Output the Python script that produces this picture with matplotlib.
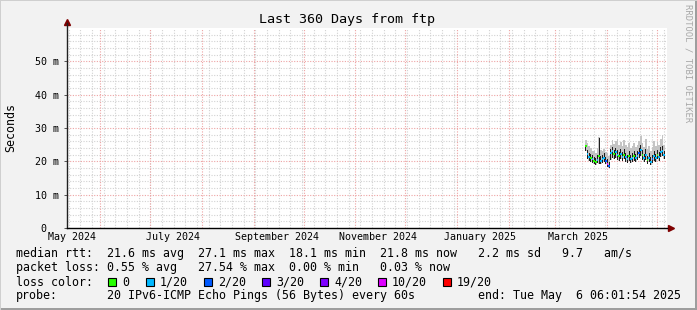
import matplotlib
matplotlib.use("Agg")
import matplotlib.pyplot as plt
from matplotlib.patches import Rectangle
import matplotlib.transforms as mtransforms
import pandas as pd

plt.rcParams["font.family"] = ["DejaVu Sans Mono"]

W, H = 697, 310

# ── data ────────────────────────────────────────────────────────────────────
days = pd.date_range("2025-03-19 12:00", periods=48, freq="D")
median_ms = [24.6, 22.2, 21.3, 21.0, 20.7, 20.2, 19.7, 20.4, 21.6, 20.1,
             20.6, 21.0, 20.2, 19.2, 18.6, 22.4, 23.0, 22.1, 22.7, 21.8,
             21.5, 22.3, 21.4, 22.0, 21.2, 20.7, 21.6, 20.6, 20.9, 21.5,
             20.9, 21.7, 22.6, 23.4, 22.0, 21.0, 21.9, 20.3, 21.1, 19.8,
             20.6, 21.5, 20.9, 22.0, 21.3, 22.8, 23.2, 21.9]
smoke_lo = [23.0, 20.8, 20.2, 19.9, 19.6, 19.3, 19.0, 19.4, 19.3, 19.2,
            19.5, 19.8, 19.2, 18.4, 18.1, 20.5, 21.0, 20.6, 21.0, 20.4,
            20.2, 20.8, 20.1, 20.6, 19.9, 19.6, 20.2, 19.5, 19.8, 20.2,
            19.7, 20.3, 21.0, 21.6, 20.5, 19.8, 20.5, 19.3, 19.9, 18.9,
            19.5, 20.2, 19.7, 20.6, 20.0, 21.2, 21.5, 20.6]
smoke_hi = [26.5, 25.5, 24.6, 24.0, 23.2, 23.0, 22.6, 24.0, 27.3, 23.5,
            23.0, 23.6, 22.8, 22.4, 21.5, 25.0, 26.4, 25.2, 26.0, 26.8,
            25.0, 25.8, 24.6, 26.5, 24.8, 24.2, 25.4, 24.0, 24.6, 25.5,
            24.2, 25.0, 26.2, 27.6, 25.5, 24.3, 26.8, 23.8, 24.6, 23.2,
            24.4, 26.2, 24.6, 25.8, 24.8, 26.6, 27.8, 25.0]
dark_hi = [25.0, 23.5, 22.6, 22.3, 21.8, 21.4, 21.0, 21.8, 27.1, 21.6,
           21.9, 22.5, 21.4, 20.6, 19.8, 23.6, 24.2, 23.4, 24.0, 23.4,
           22.8, 23.8, 22.7, 23.6, 22.5, 22.0, 23.0, 21.9, 22.4, 23.1,
           22.2, 23.0, 24.0, 25.0, 23.3, 22.2, 23.6, 21.6, 22.5, 21.2,
           22.0, 23.2, 22.3, 23.4, 22.7, 24.2, 24.6, 23.0]
loss_level = [0, 1, 1, 0, 1, 0, 0, 1, 0, 1, 1, 1, 2, 5, 2, 1, 1, 0, 1, 1,
              0, 1, 1, 0, 1, 1, 0, 1, 1, 0, 1, 1, 2, 1, 0, 1, 1, 0, 1, 1,
              2, 1, 1, 0, 1, 1, 1, 1]

loss_labels = ["0", "1/20", "2/20", "3/20", "4/20", "10/20", "19/20"]
loss_colors = ["#26ff00", "#00b8ff", "#0059ff", "#5e00ff", "#7e00ff", "#dd00ff", "#ff0000"]

y_ticks = [0, 10, 20, 30, 40, 50]
y_ticklabels = ["0", "10 m", "20 m", "30 m", "40 m", "50 m"]
x_ticks = pd.to_datetime(["2024-05-15", "2024-07-15", "2024-09-15",
                          "2024-11-15", "2025-01-15", "2025-03-15"])
x_ticklabels = ["May 2024", "July 2024", "September 2024",
                "November 2024", "January 2025", "March 2025"]

t_start = pd.Timestamp("2024-05-12 05:00")
t_end = t_start + pd.Timedelta(days=360)

legend_lines = [
    "median rtt:  21.6 ms avg  27.1 ms max  18.1 ms min  21.8 ms now   2.2 ms sd   9.7   am/s",
    "packet loss: 0.55 % avg   27.54 % max  0.00 % min   0.03 % now",
]
LEG_FS = 8.38


def fx(x):
    return x / W


def fy(y):
    return 1 - y / H


fig = plt.figure(figsize=(W / 100, H / 100), dpi=100, facecolor="#f2f2f2")
ax = fig.add_axes([fx(67), fy(228), 600 / W, 200 / H])
ax.set_facecolor("white")
ax.set_xlim(t_start, t_end)
ax.set_ylim(0, 60)

# grid
minor_kw = dict(color="#d2d2d2", lw=0.8, ls=(0, (1, 1.4)), zorder=0)
major_kw = dict(color="#eda3a3", lw=0.8, ls=(0, (1, 1.4)), zorder=0.5)
for m in pd.date_range(t_start, t_end, freq="W-MON"):
    ax.axvline(m, **minor_kw)
for m in pd.date_range(t_start, t_end, freq="MS"):
    ax.axvline(m, **major_kw)
for v in range(2, 60, 2):
    if v % 10:
        ax.axhline(v, **minor_kw)
for v in y_ticks[1:]:
    ax.axhline(v, **major_kw)

# smoke + median
lo = pd.Series(smoke_lo)
ax.bar(days, pd.Series(smoke_hi) - lo, bottom=lo, width=1.0,
       color="#c4c4c4", linewidth=0, zorder=2)
ax.bar(days, pd.Series(dark_hi) - lo, bottom=lo, width=0.5,
       color="#1e1e1e", linewidth=0, zorder=3)
ax.bar(days, 0.6, bottom=pd.Series(median_ms) - 0.3, width=1.0,
       color=[loss_colors[i] for i in loss_level], linewidth=0, zorder=4)

# axes look
for s in ["top", "right", "left", "bottom"]:
    ax.spines[s].set_visible(False)
ax.plot([0, 0], [0, 1.025], transform=ax.transAxes, color="#202020", lw=1, clip_on=False, zorder=5)
ax.plot([0, 1.0], [0, 0], transform=ax.transAxes, color="black", lw=1, clip_on=False, zorder=5)
ax.plot([0], [1.03], marker="^", ms=5, color="#7f0000", transform=ax.transAxes, clip_on=False)
ax.plot([1.006], [0], marker=">", ms=5, color="#7f0000", transform=ax.transAxes, clip_on=False)

ax.set_yticks(y_ticks)
ax.set_yticklabels(y_ticklabels)
ax.set_xticks(x_ticks)
ax.set_xticklabels(x_ticklabels)
ax.tick_params(axis="x", length=0, pad=3, labelsize=7.2)
ax.tick_params(axis="y", length=2, width=0.7, color="#555555", pad=4, labelsize=7.2)
# the zero label sits under the digits, not under the unit
zero_lab = ax.get_yticklabels()[0]
zero_lab.set_transform(zero_lab.get_transform() +
                       mtransforms.ScaledTranslation(-12 / 100, 0, fig.dpi_scale_trans))

fig.text(fx(11), fy(127), "Seconds", rotation=90, ha="center", va="center", fontsize=LEG_FS)
fig.text(fx(347), fy(19), "Last 360 Days from ftp", ha="center", va="center", fontsize=9.6)
fig.text(fx(688), fy(4), "RRDTOOL / TOBI OETIKER", rotation=270, ha="center", va="top",
         fontsize=6.4, color="#a8a8a8")

# legend
fig.text(fx(15.5), fy(254), legend_lines[0], ha="left", va="center", fontsize=LEG_FS)
fig.text(fx(15.5), fy(268), legend_lines[1], ha="left", va="center", fontsize=LEG_FS)
fig.text(fx(15.5), fy(282), "loss color:", ha="left", va="center", fontsize=LEG_FS)
box_x = [108, 145.5, 203.5, 261.5, 319.5, 377.5, 442.5]
for bx, lab, col in zip(box_x, loss_labels, loss_colors):
    fig.patches.append(Rectangle((fx(bx), fy(286)), 8 / W, 8 / H, transform=fig.transFigure,
                                 facecolor=col, edgecolor="black", lw=0.8))
    fig.text(fx(bx + 14.5), fy(282), lab, ha="left", va="center", fontsize=LEG_FS)
fig.text(fx(15.5), fy(296), "probe:", ha="left", va="center", fontsize=LEG_FS)
fig.text(fx(106.8), fy(296), "20 IPv6-ICMP Echo Pings (56 Bytes) every 60s",
         ha="left", va="center", fontsize=LEG_FS)
fig.text(fx(478.5), fy(296), "end: Tue May  6 06:01:54 2025", ha="left", va="center", fontsize=LEG_FS)

# frame shading
fig.patches.append(Rectangle((0, 0), 1, 2 / H, transform=fig.transFigure, color="#9e9e9e", lw=0))
fig.patches.append(Rectangle((1 - 2 / W, 0), 2 / W, 1, transform=fig.transFigure, color="#9e9e9e", lw=0))
fig.patches.append(Rectangle((0, 1 - 1 / H), 1, 1 / H, transform=fig.transFigure, color="#cfcfcf", lw=0))
fig.patches.append(Rectangle((0, 0), 1 / W, 1, transform=fig.transFigure, color="#cfcfcf", lw=0))

fig.savefig("out.png", dpi=100, facecolor=fig.get_facecolor())
